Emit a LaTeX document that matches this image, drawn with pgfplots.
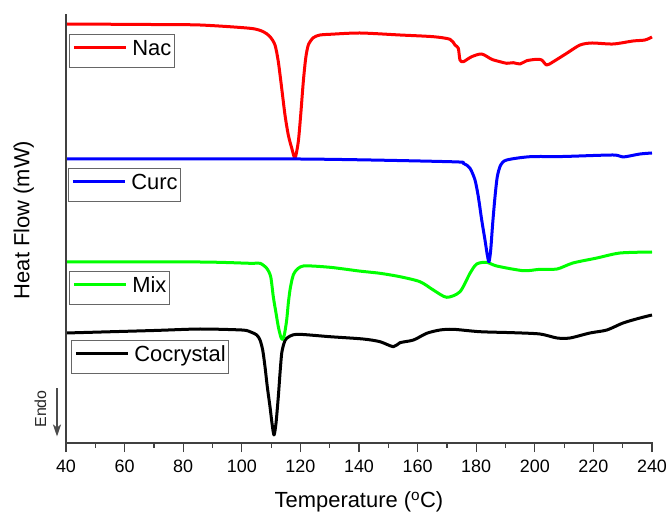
\documentclass[border=0pt]{standalone}
\usepackage{fontspec}
\setmainfont{Liberation Sans}
\usepackage{pgfplots}
\pgfplotsset{compat=1.18}
\usetikzlibrary{arrows.meta}
\definecolor{mixgreen}{RGB}{0,255,0}
\newcommand{\legbox}[4]{\node[draw=black!60, line width=1bp, anchor=north west, inner xsep=3bp, inner ysep=0pt, minimum height=33bp, font=\fontsize{22}{24}\selectfont] at (axis cs:#1,#2) {\tikz[baseline=-0.36em]\draw[#3, line width=2.8bp] (0,0)--(52bp,0);\hspace{5bp}\strut#4};}
\begin{document}
\begin{tikzpicture}
\begin{axis}[
  scale only axis, width=586bp, height=428bp,
  xmin=40, xmax=240, ymin=0, ymax=428,
  axis line style={draw=none},
  xtick={40,60,...,240}, minor x tick num=1,
  ytick=\empty,
  xtick pos=left,
  tick align=outside,
  major tick length=9bp, minor tick length=5bp,
  tick style={draw=black!75, line width=1.2bp},
  tick label style={font=\fontsize{18}{20}\selectfont},
  xticklabel style={yshift=-4bp},
  /pgf/number format/assume math mode=true,
  xlabel={Temperature (\textsuperscript{o}C)},
  ylabel={Heat Flow (mW)},
  label style={font=\fontsize{22}{24}\selectfont},
  xlabel style={at={(axis description cs:0.5,-0.138)}, anchor=center},
  ylabel style={at={(axis description cs:-0.072,0.521)}, anchor=center},
  clip=false,
  every axis plot/.append style={line width=3bp, line join=round, smooth, tension=0.45},
]
% Nac
\addplot[red] coordinates {
(40,419) (68.7,418.5) (85.7,418) (102.8,414.7) (107.34,411.3) (109.62,406.3) (111.33,398) (112.46,381.3) (113.62,354.7) (114.74,328) (115.87,308) (117.03,295) (118.16,285) (119.28,301.3) (120.10,328) (120.99,361.3) (121.81,384.7) (122.70,398) (124.40,405.3) (126.69,408) (130.10,408.7) (140.3,410) (153.99,408) (165.36,406.3) (171.06,403.7) (172.76,398) (173.89,394.7) (174.47,383) (175.60,381.3) (178.46,386.3) (181.88,389) (185.29,383.7) (188.12,381.3) (190.41,379.7) (192.66,380.3) (194.95,379) (197.24,382.3) (200.65,383.7) (202.36,383) (204.06,378) (206.31,381.3) (210.89,389.7) (215.43,398) (219.5,400) (226.7,399) (233.5,402) (237.6,403) (240,406)
};
% Cocrystal
\addplot[black] coordinates {
(40,110) (70,112.5) (85.7,114) (100,113) (102.80,111.3) (105.09,108) (106.21,103) (107.13,93) (107.92,76.3) (108.70,56.3) (109.62,36.3) (110.31,19.7) (110.99,8) (111.67,19.7) (112.46,46.3) (113.04,69.7) (113.62,89.7) (114.40,99.7) (115.32,104.7) (118.74,108.7) (130.10,106.3) (141.4,104) (147.17,101.3) (151.71,96.3) (153.99,100.3) (158.60,103) (163.11,109.7) (167.65,113) (172.19,113.7) (181.30,111.3) (192.66,110.3) (201.77,109) (207.6,105) (212.0,105) (218.8,110) (224.6,113) (230.1,120) (235.9,125) (240,128)
};
% Mix
\addplot[mixgreen] coordinates {
(40,181) (85.7,181) (102.80,179.7) (106.21,179.7) (108.50,174.7) (109.86,166.3) (110.75,146.3) (111.67,130) (112.46,116.3) (113.28,106.3) (113.82,103.7) (114.51,108) (115.32,123) (115.87,139.7) (116.45,153) (117.24,164.7) (118.16,171.3) (120.99,177) (130.10,175.7) (140,172) (147.17,169.7) (153.99,166.3) (160.82,161.3) (165.36,153) (169.93,145.7) (174.47,151.3) (177.88,169.7) (180.17,179) (183.58,180.7) (186.99,177) (196.08,172.3) (201.77,173.7) (207.6,174) (213.0,180) (221.2,185) (229.1,190) (240,191)
};
% Curc
\addplot[blue] coordinates {
(40,284) (119.9,284) (171.06,281.3) (175.60,279.7) (177.88,274.7) (179.59,263) (180.72,246.3) (181.88,223) (183.00,203) (183.79,188) (184.37,181.3) (184.95,193) (185.63,219.7) (186.42,246.3) (187.20,266.3) (188.36,278) (190.41,283) (198.36,286.3) (209.6,286.5) (226.7,288) (230.1,286) (235.9,289) (240,290)
};
\draw[black!75, line width=1.2bp, line cap=rect] (rel axis cs:0,1) -- (rel axis cs:0,0) -- (rel axis cs:1,0);
\pgfplotsinvokeforeach{40,60,...,240}{\draw[black!75, line width=1.2bp] (axis cs:#1,0) -- (axis cs:#1,-9);}
\pgfplotsinvokeforeach{50,70,...,230}{\draw[black!75, line width=1.2bp] (axis cs:#1,0) -- (axis cs:#1,-5);}
\legbox{41.02}{409}{red}{Nac}
\legbox{40.68}{275}{blue}{Curc}
\legbox{41.02}{172}{mixgreen}{Mix}
\legbox{41.71}{103}{black}{Cocrystal}
\draw[black!70, line width=2bp, -{Stealth[length=12bp,width=8bp,inset=3bp]}] (axis cs:36.93,55) -- (axis cs:36.93,6.5);
\node[rotate=90, font=\fontsize{16}{18}\selectfont, black!85] at (axis cs:31.3,34) {Endo};
\end{axis}
\pgfresetboundingbox
\path (-66bp,-71bp) rectangle (601bp,443bp);
\end{tikzpicture}
\end{document}
